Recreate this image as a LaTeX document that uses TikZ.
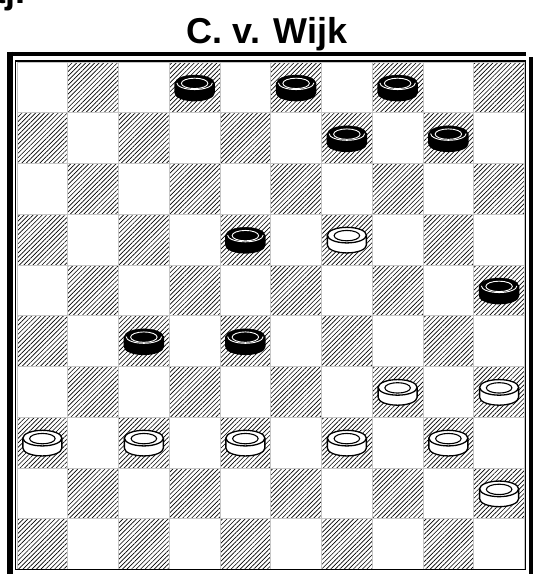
\documentclass[tikz,border=0pt]{standalone}
\usepackage{fontspec}
\setmainfont{Liberation Sans}
\usetikzlibrary{patterns.meta}
\begin{document}
\begin{tikzpicture}[x=1pt,y=-1pt,
  sq/.style={draw=gray!45,line width=0.7pt},
  darksq/.style={sq,pattern={Lines[angle=45,distance=3.2pt,line width=0.65pt]},pattern color=black},
  titlefont/.style={font=\bfseries\fontsize{36}{40}\selectfont},
  wpiece/.pic={
    \filldraw[fill=white,draw=black,line width=1.3pt,line join=round] (-19.5,-4.5) -- (-19.5,5.5) arc[start angle=180,end angle=0,x radius=19.5,y radius=7.8] -- (19.5,-4.5) -- cycle;
    \filldraw[fill=white,draw=black,line width=1.3pt] (0,-4.5) ellipse[x radius=19.5,y radius=7.8];
    \draw[line width=1.1pt] (0,-4) ellipse[x radius=12.8,y radius=5.2];
  },
  bpiece/.pic={
    \filldraw[fill=black,draw=black,line width=1.3pt,line join=round] (-19.5,-4.5) -- (-19.5,5.5) arc[start angle=180,end angle=0,x radius=19.5,y radius=7.8] -- (19.5,-4.5) -- cycle;
    \filldraw[black] (0,-4.5) ellipse[x radius=19.5,y radius=7.8];
    \draw[white,line width=0.9pt] (-17.8,-4.5) arc[start angle=180,end angle=0,x radius=17.8,y radius=6.7];
    \draw[white,line width=0.9pt] (0,-4) ellipse[x radius=13.3,y radius=5.2];
  }]
\useasboundingbox (0,0) rectangle (533,574);
\clip (0,0) rectangle (533,574);
\fill[white] (0,0) rectangle (533,574);
% board squares
\foreach \r in {0,...,9}{
  \foreach \c in {0,...,9}{
    \pgfmathtruncatemacro\p{mod(\r+\c,2)}
    \ifnum\p=1
      \path[darksq] ({17+50.75*\c},{62+50.75*\r}) rectangle ++(50.75,50.75);
    \else
      \path[sq] ({17+50.75*\c},{62+50.75*\r}) rectangle ++(50.75,50.75);
    \fi
  }
}
% pieces
\foreach \c/\r in {3/0,5/0,7/0,6/1,8/1,4/3,9/4,2/5,4/5}
  \pic at ({17+50.75*(\c+0.5)},{62+50.75*(\r+0.5)}) {bpiece};
\foreach \c/\r in {6/3,7/6,9/6,0/7,2/7,4/7,6/7,8/7,9/8}
  \pic at ({17+50.75*(\c+0.5)},{62+50.75*(\r+0.5)}) {wpiece};
% frame
\draw[line width=1.3pt] (15.6,61) rectangle (525.6,569.8);
\draw[line width=4.6pt] (7,54) -- (526,54);
\draw[line width=6pt] (10,51.7) -- (10,590);
\draw[line width=4.5pt] (531.3,57) -- (531.3,590);
% texts
\node[titlefont,anchor=base,inner sep=0pt] (title) at (267,43) {C. v. Wijk};
\node[titlefont,anchor=base east,inner sep=0pt] (frag) at (26,3.5) {aj.};
\end{tikzpicture}
\end{document}
